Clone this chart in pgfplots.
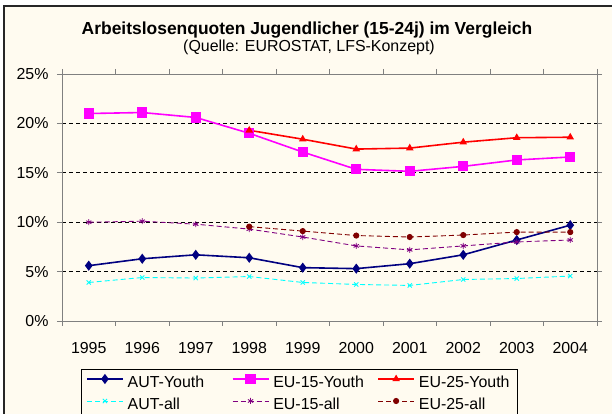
\documentclass[border=0pt]{standalone}
\usepackage{fontspec}
\setmainfont{Liberation Sans}
\usepackage{pgfplots}
\pgfplotsset{compat=1.18}

\definecolor{cream}{RGB}{255,251,240}
\definecolor{autyouth}{RGB}{0,0,128}
\definecolor{euyouth}{RGB}{255,0,255}
\definecolor{eutfyouth}{RGB}{255,0,0}
\definecolor{autall}{RGB}{0,255,255}
\definecolor{euall}{RGB}{128,0,128}
\definecolor{eutfall}{RGB}{128,0,0}

\newcommand{\lbl}[1]{\makebox[93bp][l]{#1}}

\begin{document}
\begin{tikzpicture}
\path[use as bounding box] (0,0) rectangle (612bp,414bp);
\fill[white] (0,0) rectangle (612bp,414bp);
\fill[cream] (3.5bp,0) rectangle (612bp,408.5bp);
\draw[black!85, line width=1.8bp] (4bp,0) -- (4bp,408bp) -- (612bp,408bp);

\node[anchor=base, inner sep=0pt, font=\bfseries\fontsize{17.5}{20}\selectfont] at (307bp,379.5bp)
  {Arbeitslosenquoten Jugendlicher (15-24j) im Vergleich};
\node[anchor=base, inner sep=0pt, font=\fontsize{16}{19}\selectfont] at (309bp,362.5bp)
  {(Quelle: EUROSTAT, LFS-Konzept)};

\begin{axis}[
    at={(62bp,93bp)}, anchor=south west,
    scale only axis,
    width=535bp, height=247bp,
    xmin=-0.5, xmax=9.5,
    ymin=0, ymax=25,
    axis background/.style={fill=cream},
    axis line style={draw=gray, line width=0.8bp},
    tick align=outside,
    major tick length=5bp,
    tick style={draw=gray, line width=0.8bp},
    xtick={-0.5,0.5,...,9.5},
    xticklabels={},
    extra x ticks={0,1,...,9},
    extra x tick labels={1995,1996,1997,1998,1999,2000,2001,2002,2003,2004},
    extra x tick style={major tick length=0pt,
        xticklabel style={anchor=base, yshift=-32.3bp}},
    ytick={0,5,...,25},
    yticklabel={\pgfmathprintnumber{\tick}\%},
    yticklabel style={xshift=-5bp},
    ymajorgrids,
    grid style={black, dash pattern=on 4bp off 3bp, line width=0.7bp},
    /pgf/number format/assume math mode=true,
    tick label style={font=\fontsize{16}{19}\selectfont},
    legend columns=3,
    legend cell align=left,
    legend image code/.code={
        \draw[#1] (0bp,5bp) -- (36bp,5bp);
        \draw[#1] plot coordinates {(18bp,5bp)};
    },
    legend style={at={(0.035,-0.1955)}, anchor=north west,
        draw=black, fill=cream, line width=0.8bp,
        font=\fontsize{16}{19}\selectfont,
        inner xsep=5bp, inner ysep=5bp,
        nodes={inner sep=0pt, text height=12bp, text depth=4bp},
        row sep=6bp,
        /tikz/every odd column/.append style={column sep=4bp},
        /tikz/every even column/.append style={column sep=11bp}},
]
% AUT-Youth
\addplot[autyouth, line width=1.6bp, mark=diamond*, mark size=3.8bp,
    mark options={solid, fill=autyouth}] coordinates {
    (0,5.6) (1,6.3) (2,6.7) (3,6.4) (4,5.4) (5,5.3) (6,5.8) (7,6.7) (8,8.2) (9,9.7)
};
\addlegendentry{\lbl{AUT-Youth}}
% EU-15-Youth
\addplot[euyouth, line width=1.6bp, mark=square*, mark size=4.3bp,
    mark options={solid, fill=euyouth}] coordinates {
    (0,21.0) (1,21.1) (2,20.6) (3,19.0) (4,17.1) (5,15.35) (6,15.15) (7,15.65) (8,16.3) (9,16.6)
};
\addlegendentry{\lbl{EU-15-Youth}}
% EU-25-Youth
\addplot[eutfyouth, line width=1.6bp, mark=triangle*, mark size=2.8bp,
    mark options={solid, fill=eutfyouth}] coordinates {
    (3,19.3) (4,18.4) (5,17.4) (6,17.5) (7,18.1) (8,18.55) (9,18.6)
};
\addlegendentry{\lbl{EU-25-Youth}}
% AUT-all
\addplot[autall, line width=0.9bp, dash pattern=on 5bp off 3bp, mark=x, mark size=3bp,
    mark options={solid}] coordinates {
    (0,3.9) (1,4.4) (2,4.35) (3,4.5) (4,3.9) (5,3.7) (6,3.6) (7,4.2) (8,4.3) (9,4.55)
};
\addlegendentry{\lbl{AUT-all}}
% EU-15-all
\addplot[euall, line width=0.9bp, dash pattern=on 5bp off 3bp, mark=asterisk, mark size=3bp,
    mark options={solid}] coordinates {
    (0,10.0) (1,10.1) (2,9.8) (3,9.3) (4,8.5) (5,7.6) (6,7.2) (7,7.6) (8,8.0) (9,8.2)
};
\addlegendentry{\lbl{EU-15-all}}
% EU-25-all
\addplot[eutfall, line width=0.9bp, dash pattern=on 5bp off 3bp, mark=*, mark size=2.6bp,
    mark options={solid, fill=eutfall}] coordinates {
    (3,9.55) (4,9.1) (5,8.65) (6,8.5) (7,8.7) (8,9.0) (9,9.0)
};
\addlegendentry{\lbl{EU-25-all}}
\end{axis}
\end{tikzpicture}
\end{document}
